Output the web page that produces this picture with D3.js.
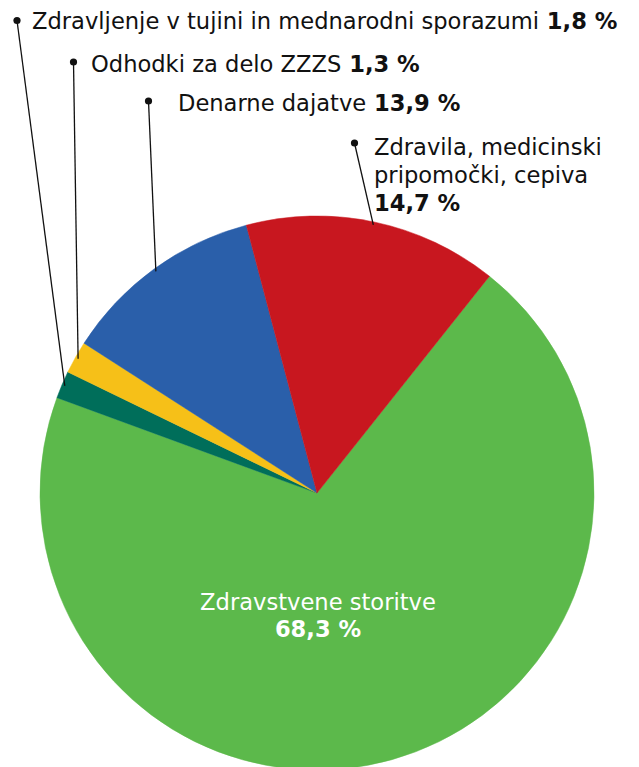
<!DOCTYPE html>
<html>
<head>
<meta charset="utf-8">
<script src="https://cdn.jsdelivr.net/npm/d3@7"></script>
<style>
  html, body { margin: 0; padding: 0; background: #fff; }
  svg { display: block; }
  text { font-family: "DejaVu Sans", sans-serif; }
</style>
</head>
<body>
<svg id="chart" width="639" height="767"></svg>
<script>
// ---- data ----
const categories = [
  "Zdravstvene storitve",
  "Zdravljenje v tujini in mednarodni sporazumi",
  "Odhodki za delo ZZZS",
  "Denarne dajatve",
  "Zdravila, medicinski pripomočki, cepiva"
];
// slice sizes as drawn in the picture
const sliceValues = [69.9, 1.6, 1.9, 11.8, 14.8];
// percentages as printed in the labels
const percentLabels = ["68,3 %", "1,8 %", "1,3 %", "13,9 %", "14,7 %"];
const colors = ["#5cb94b", "#006e5a", "#f6c018", "#2a5faa", "#c8171f"];

// ---- layout ----
const W = 639, H = 767;
const cx = 317, cy = 493, R = 277;
const startDeg = 38.5;
const fontSize = 22.6;

// external label placement (text x, first baseline y, dot position, line wraps)
const labelLayout = [
  null,
  { x: 32,  y: 29,  dot: [17, 20.5],  lines: ["Zdravljenje v tujini in mednarodni sporazumi"], inline: true },
  { x: 91,  y: 72,  dot: [73.5, 62],  lines: ["Odhodki za delo ZZZS"], inline: true },
  { x: 178, y: 111, dot: [148.5, 101], lines: ["Denarne dajatve"], inline: true },
  { x: 374, y: 155, dot: [354.5, 143], lines: ["Zdravila, medicinski", "pripomočki, cepiva"], inline: false }
];
const lineHeight = 28;

const svg = d3.select("#chart");

const pie = d3.pie()
  .sort(null)
  .value(d => d)
  .startAngle(startDeg * Math.PI / 180)
  .endAngle(startDeg * Math.PI / 180 + 2 * Math.PI);

const arcs = pie(sliceValues);
const arc = d3.arc().innerRadius(0).outerRadius(R);

const g = svg.append("g").attr("transform", `translate(${cx},${cy})`);

g.selectAll("path.slice")
  .data(arcs)
  .join("path")
  .attr("class", "slice")
  .attr("d", arc)
  .attr("fill", (d, i) => colors[i])
  .attr("stroke", (d, i) => colors[i])
  .attr("stroke-width", 0.5);

// inner label for the big slice
const inner = svg.append("text")
  .attr("x", 318)
  .attr("y", 610)
  .attr("text-anchor", "middle")
  .attr("fill", "#ffffff")
  .attr("font-size", fontSize);
inner.append("tspan").attr("x", 318).attr("dy", 0).text(categories[0]);
inner.append("tspan").attr("x", 318).attr("dy", 27).attr("font-weight", "bold").text(percentLabels[0]);

// external labels with leader lines
function pointAt(angle, r) {
  return [cx + r * Math.sin(angle), cy - r * Math.cos(angle)];
}

labelLayout.forEach((L, i) => {
  if (!L) return;
  const a = arcs[i];
  const mid = (a.startAngle + a.endAngle) / 2;
  const end = pointAt(mid, R - 3);
  const dot = L.dot;

  svg.append("line")
    .attr("x1", dot[0]).attr("y1", dot[1])
    .attr("x2", end[0]).attr("y2", end[1])
    .attr("stroke", "#111").attr("stroke-width", 1.3);
  svg.append("circle")
    .attr("cx", dot[0]).attr("cy", dot[1]).attr("r", 3.6)
    .attr("fill", "#111");

  const t = svg.append("text")
    .attr("x", L.x).attr("y", L.y)
    .attr("fill", "#111")
    .attr("font-size", fontSize);
  L.lines.forEach((ln, k) => {
    t.append("tspan").attr("x", L.x).attr("dy", k === 0 ? 0 : lineHeight).text(ln);
  });
  if (L.inline) {
    t.append("tspan").attr("font-weight", "bold").text(" " + percentLabels[i]);
  } else {
    t.append("tspan").attr("x", L.x).attr("dy", lineHeight).attr("font-weight", "bold").text(percentLabels[i]);
  }
});
</script>
</body>
</html>
